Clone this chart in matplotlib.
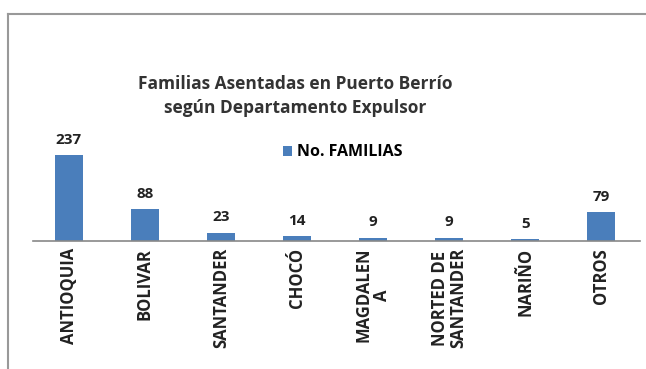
import matplotlib.pyplot as plt
from matplotlib.lines import Line2D

departamentos = ['ANTIOQUIA', 'BOLIVAR', 'SANTANDER', 'CHOCÓ', 'MAGDALEN\nA',
                 'NORTED DE\nSANTANDER', 'NARIÑO', 'OTROS']
familias = [237, 88, 23, 14, 9, 9, 5, 79]

plt.rcParams['font.family'] = ['Open Sans', 'DejaVu Sans']

fig = plt.figure(figsize=(6.46, 3.69), dpi=100)
W, H = 646, 369
# axes in pixel coordinates: left 33, right 640, baseline 241
ax = fig.add_axes([33 / W, (H - 241) / H, (640 - 33) / W, 181 / H])

x = list(range(len(departamentos)))
bars = ax.bar(x, familias, width=0.37, color='#4A7EBB', label='No. FAMILIAS')
for xi, v in zip(x, familias):
    ax.annotate(str(v), (xi, v), xytext=(0, 6), textcoords='offset points',
                ha='center', va='bottom', fontsize=11, fontweight='bold',
                color='#222222')

ax.set_xlim(-0.47, 7.51)
ax.set_ylim(0, 499)
ax.set_xticks(x)
ax.set_xticklabels(departamentos, rotation=90, fontsize=12, fontweight='bold',
                   color='#222222', va='top', ha='center', multialignment='center',
                   linespacing=1.05)
ax.tick_params(axis='x', length=0, pad=5)
ax.set_yticks([])
for s in ['top', 'right', 'left']:
    ax.spines[s].set_visible(False)
ax.spines['bottom'].set_color('#888888')
ax.spines['bottom'].set_linewidth(1.2)

ax.legend(loc='center left', bbox_to_anchor=(236 / 607, 0.49), frameon=False,
          handlelength=0.55, handleheight=0.6, handletextpad=0.3,
          prop={'weight': 'bold', 'size': 11.5})

fig.text(295 / W, 1 - 84 / H, 'Familias Asentadas en Puerto Berrío',
         ha='center', va='center', fontsize=12.5, fontweight='bold', color='#333333')
fig.text(295 / W, 1 - 108 / H, 'según Departamento Expulsor',
         ha='center', va='center', fontsize=12.5, fontweight='bold', color='#333333')

# outer frame (top and left edges)
fig.add_artist(Line2D([8 / W, 1], [1 - 14 / H, 1 - 14 / H], color='#999999', lw=1.5))
fig.add_artist(Line2D([8 / W, 8 / W], [0, 1 - 14 / H], color='#999999', lw=1.5))

fig.savefig('out.png', dpi=100)
